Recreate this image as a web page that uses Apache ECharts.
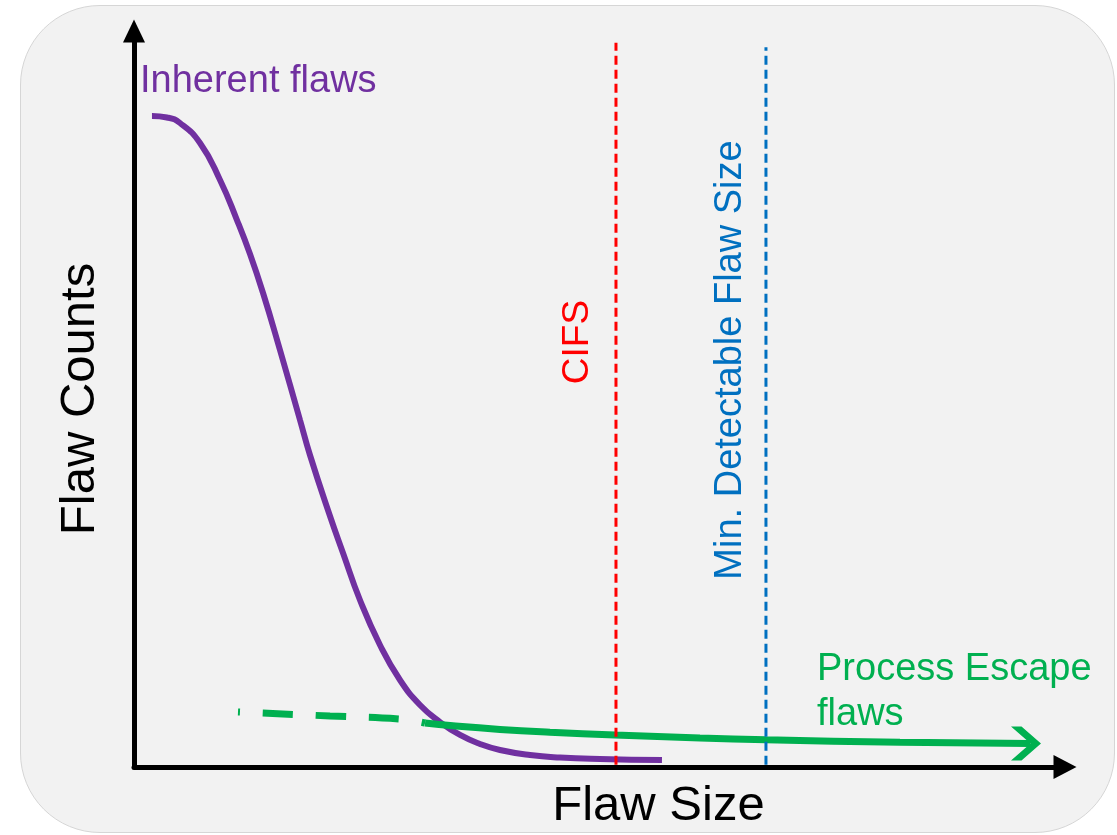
<!DOCTYPE html>
<html>
<head>
<meta charset="utf-8">
<title>Flaw Size vs Flaw Counts</title>
<script src="https://cdn.jsdelivr.net/npm/echarts@6/dist/echarts.min.js"></script>
<style>
    html, body { margin: 0; padding: 0; background: #fff; }
    #wrap { position: relative; width: 1117px; height: 835px; }
    #panel {
        position: absolute; left: 20px; top: 5px; width: 1093px; height: 826px;
        background: #f2f2f2; border: 1px solid #d6d6d6; border-radius: 80px;
    }
    #chart { position: absolute; left: 0; top: 0; width: 1117px; height: 835px; }
</style>
</head>
<body>
<div id="wrap">
    <div id="panel"></div>
    <div id="chart"></div>
</div>
<script>
// Inherent flaws curve (x = flaw size, y = count)
const inherentSize = [1.93, 3.54, 4.94, 7.09, 9.24, 11.06, 12.46, 13.86, 15.68, 17.83, 18.9, 21.05, 22.45, 24.27, 26.42, 28.57, 30.72, 32.87, 35.02, 37.16, 39.31, 42.54, 45.76, 50.05, 56.71];
const inherentCount = [88.45, 88.25, 87.5, 84.78, 79.76, 74.32, 69.7, 64.4, 56.66, 47.15, 42.39, 34.1, 29.08, 22.69, 16.58, 11.82, 8.42, 6.11, 4.35, 3.13, 2.31, 1.63, 1.29, 1.09, 0.95];

// Process escape flaws: dashed start, then solid to the arrow
const escapeDashSize = [11.17, 21.05, 28.57, 31.26];
const escapeDashCount = [7.47, 6.93, 6.52, 5.98];
const escapeSize = [31.26, 34.26, 39.31, 44.68, 51.66, 60.79, 67.88, 82.28, 96.24];
const escapeCount = [5.98, 5.6, 5.11, 4.73, 4.35, 3.94, 3.7, 3.37, 3.19];

// Vertical markers
const cifsSize = 51.77;
const cifsRange = [0.3, 98.4];
const minDetectSize = 67.88;
const minDetectRange = [0.3, 97.8];

const FONT = '"Liberation Sans", Arial, sans-serif';
const PURPLE = '#7030a0';
const GREEN = '#00b050';
const RED = '#ff0000';
const BLUE = '#0070c0';

const chart = echarts.init(document.getElementById('chart'));

function pairs(xs, ys) {
    return xs.map(function (x, i) { return [x, ys[i]]; });
}

const chevron = 'path://M0,0 L7,0 L20,15 L7,30 L0,30 L13,15 Z';
const lastIdx = escapeSize.length - 1;

const option = {
    animation: false,
    grid: { left: 134, right: 52, top: 31, bottom: 68, outerBoundsMode: 'none' },
    xAxis: {
        type: 'value', min: 0, max: 100,
        axisLine: {
            show: true, onZero: false,
            symbol: ['none', 'triangle'], symbolSize: [24, 23],
            lineStyle: { color: '#000', width: 5 }
        },
        axisTick: { show: false }, axisLabel: { show: false }, splitLine: { show: false },
        name: 'Flaw Size', nameLocation: 'middle', nameGap: 15,
        nameTextStyle: { fontFamily: FONT, fontSize: 49, color: '#000', padding: [0, 0, 0, 118], verticalAlign: 'top' }
    },
    yAxis: {
        type: 'value', min: 0, max: 100,
        axisLine: {
            show: true, onZero: false,
            symbol: ['none', 'triangle'], symbolSize: [22, 23],
            lineStyle: { color: '#000', width: 5 }
        },
        axisTick: { show: false }, axisLabel: { show: false }, splitLine: { show: false },
        name: 'Flaw Counts', nameLocation: 'middle', nameGap: 19, nameRotate: 90,
        nameTextStyle: { fontFamily: FONT, fontSize: 49, color: '#000', padding: [0, 0, 10, 0] }
    },
    series: [
        {
            name: 'Inherent flaws', type: 'line', data: pairs(inherentSize, inherentCount),
            smooth: 0.5, symbol: 'none',
            lineStyle: { color: PURPLE, width: 6 }, z: 3
        },
        {
            name: 'Escape dashed', type: 'line', data: pairs(escapeDashSize, escapeDashCount),
            smooth: 0.5, symbol: 'none',
            lineStyle: { color: GREEN, width: 7, type: [30, 23], dashOffset: 28 }, z: 4
        },
        {
            name: 'Process Escape flaws', type: 'line', data: pairs(escapeSize, escapeCount),
            smooth: 0.5,
            symbol: chevron, showAllSymbol: true,
            symbolSize: function (v, p) { return p.dataIndex === lastIdx ? [30, 34] : 0; },
            symbolOffset: [-4, 0],
            itemStyle: { color: GREEN },
            lineStyle: { color: GREEN, width: 7 }, z: 4
        },
        {
            name: 'CIFS', type: 'line',
            data: cifsRange.map(function (y) { return [cifsSize, y]; }),
            symbol: 'none', lineStyle: { color: RED, width: 3, type: [9, 5] }, z: 5
        },
        {
            name: 'Min. Detectable Flaw Size', type: 'line',
            data: minDetectRange.map(function (y) { return [minDetectSize, y]; }),
            symbol: 'none', lineStyle: { color: BLUE, width: 3, type: [9, 5] }, z: 5
        }
    ],
    graphic: [
        {
            type: 'text', x: 140, y: 82,
            style: { text: 'Inherent flaws', fill: PURPLE, font: '38px ' + FONT, textAlign: 'left', textVerticalAlign: 'middle' }
        },
        {
            type: 'text', x: 578, y: 342, rotation: Math.PI / 2,
            style: { text: 'CIFS', fill: RED, font: '37px ' + FONT, textAlign: 'center', textVerticalAlign: 'middle' }
        },
        {
            type: 'text', x: 731, y: 360, rotation: Math.PI / 2,
            style: { text: 'Min. Detectable Flaw Size', fill: BLUE, font: '38px ' + FONT, textAlign: 'center', textVerticalAlign: 'middle' }
        },
        {
            type: 'text', x: 817, y: 670,
            style: { text: 'Process Escape', fill: GREEN, font: '38px ' + FONT, textAlign: 'left', textVerticalAlign: 'middle' }
        },
        {
            type: 'text', x: 817, y: 715,
            style: { text: 'flaws', fill: GREEN, font: '38px ' + FONT, textAlign: 'left', textVerticalAlign: 'middle' }
        }
    ]
};

chart.setOption(option);

window.addEventListener('resize', function () {
    chart.resize();
});
</script>
</body>
</html>
